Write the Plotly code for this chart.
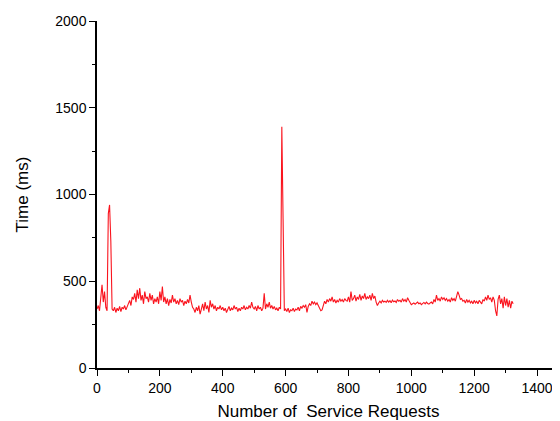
import plotly.graph_objects as go

step = 4
times = [
    # 0-96
    340, 360, 330, 420, 480, 380, 440, 350, 330, 890, 940, 730, 340, 330, 350, 320, 345, 330, 355, 325, 350, 340, 360, 335, 355,
    # 100-196
    370, 390, 360, 410, 395, 430, 380, 450, 400, 460, 390, 420, 370, 440, 400, 410, 380, 430, 390, 420, 370, 400, 380, 410, 370,
    # 200-296
    440, 390, 470, 380, 410, 370, 400, 360, 395, 375, 420, 380, 400, 370, 390, 365, 400, 380, 390, 360, 385, 370, 395, 375, 420,
    # 300-396
    380, 350, 340, 320, 350, 330, 360, 310, 340, 370, 330, 380, 340, 360, 320, 390, 350, 370, 340, 360, 330, 350, 340, 360, 335,
    # 400-496
    350, 330, 345, 320, 340, 355, 330, 345, 335, 360, 340, 350, 325, 345, 330, 350, 340, 360, 335, 350, 340, 360, 345, 380, 350,
    # 500-596
    340, 355, 330, 360, 340, 350, 330, 345, 430, 340, 370, 350, 380, 345, 360, 340, 355, 335, 345, 330, 350, 340, 1390, 860, 330,
    # 600-696
    340, 325, 345, 320, 335, 330, 345, 325, 340, 335, 350, 330, 355, 345, 360, 350, 365, 320, 355, 370, 360, 385, 370, 380, 365,
    # 700-796
    375, 360, 340, 330, 335, 360, 385, 370, 395, 380, 400, 385, 410, 380, 395, 375, 390, 380, 400, 385, 395, 380, 400, 390, 385,
    # 800-896
    410, 380, 440, 390, 400, 420, 385, 410, 395, 425, 390, 415, 400, 430, 395, 410, 400, 420, 390, 430, 400, 415, 380, 360, 375,
    # 900-996
    385, 375, 390, 380, 385, 378, 390, 380, 388, 376, 392, 382, 386, 378, 395, 385, 390, 380, 400, 385, 395, 380, 405, 390, 375,
    # 1000-1096
    365, 370, 375, 368, 372, 380, 370, 375, 365, 372, 378, 370, 380, 372, 368, 375, 380, 370, 395, 380, 420, 390, 400, 385, 410,
    # 1100-1196
    395, 405, 390, 400, 385, 395, 380, 405, 390, 400, 385, 410, 440, 420, 395, 400, 385, 390, 375, 395, 380, 390, 375, 385, 370,
    # 1200-1296
    390, 375, 385, 370, 390, 380, 370, 395, 385, 410, 390, 420, 395, 405, 380, 410, 390, 330, 300, 395, 420, 370, 400, 345, 410,
    # 1300-1324
    360, 400, 350, 390, 345, 385, 370,
]
requests = [i * step for i in range(len(times))]

x_ticks = [0, 200, 400, 600, 800, 1000, 1200, 1400]
y_ticks = [0, 500, 1000, 1500, 2000]

fig = go.Figure()
fig.add_trace(go.Scatter(
    x=requests, y=times, mode="lines",
    line=dict(color="rgb(250,20,30)", width=1.1),
    showlegend=False,
))

font = "Liberation Sans, Arial, sans-serif"
# the page body adds an 8px offset, so the figure is 8px smaller on each side
fig.update_layout(
    width=552, height=413,
    margin=dict(l=89, r=0, t=13, b=53),
    paper_bgcolor="white", plot_bgcolor="white",
    font=dict(family=font, color="black", size=14),
    xaxis=dict(
        range=[0, 1473], tickvals=x_ticks, ticks="outside", ticklen=6, tickwidth=1.2,
        tickcolor="black", showline=True, linecolor="black", linewidth=1.5,
        showgrid=False, zeroline=False,
        minor=dict(ticks="outside", ticklen=3, dtick=100, tick0=0, tickcolor="black", tickwidth=1.2),
        title=dict(text="Number of  Service Requests", font=dict(size=17), standoff=14),
        tickfont=dict(size=14),
    ),
    yaxis=dict(
        range=[0, 2000], tickvals=y_ticks, ticks="outside", ticklen=6, tickwidth=1.2,
        tickcolor="black", showline=True, linecolor="black", linewidth=1.5,
        showgrid=False, zeroline=False,
        minor=dict(ticks="outside", ticklen=3, dtick=250, tick0=0, tickcolor="black", tickwidth=1.2),
        title=dict(text="Time (ms)", font=dict(size=17), standoff=22),
        tickfont=dict(size=14),
    ),
)

fig.write_html("out.html")
